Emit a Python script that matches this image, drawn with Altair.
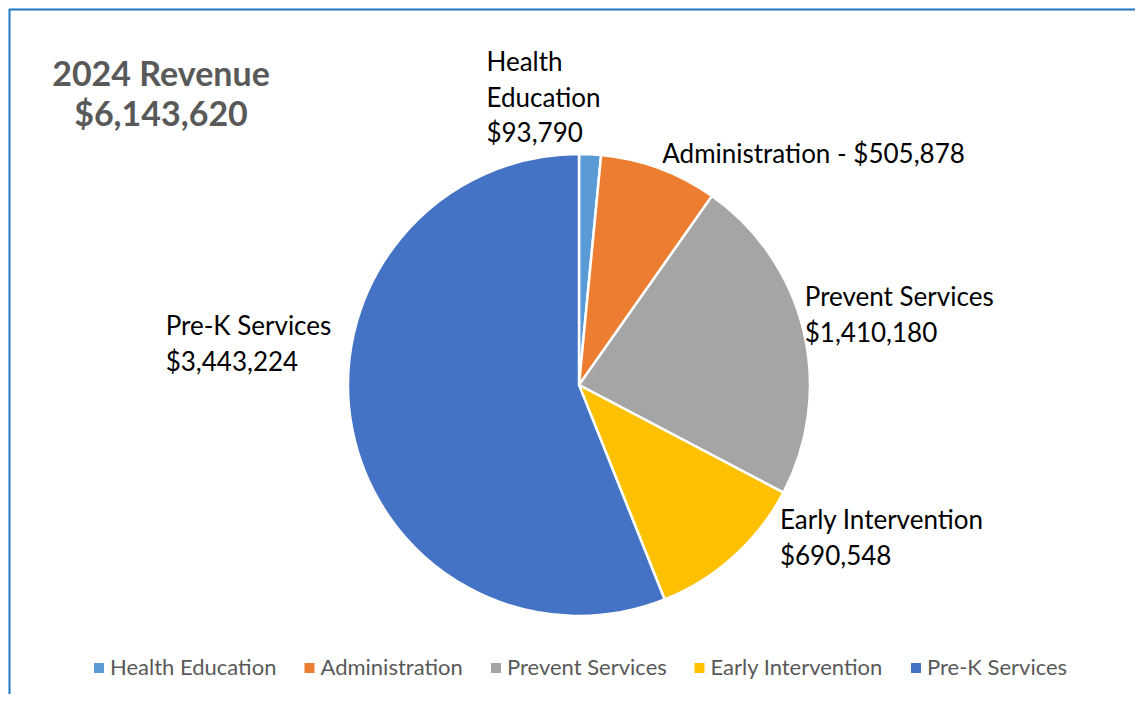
import altair as alt
import pandas as pd

# ---- data ----
categories = ["Health Education", "Administration", "Prevent Services",
              "Early Intervention", "Pre-K Services"]
values = [93790, 505878, 1410180, 690548, 3443224]
colors = ["#5B9BD5", "#ED7D31", "#A5A5A5", "#FFC000", "#4472C4"]
label_heads = ["Health\nEducation", "Administration", "Prevent Services",
               "Early Intervention", "Pre-K Services"]
label_seps = ["\n", " - ", "\n", "\n", "\n"]
title_lines = ["2024 Revenue", "$6,143,620"]

df = pd.DataFrame({
    "category": categories,
    "value": values,
    "idx": list(range(len(categories))),
    "label": [h + s + f"${v:,}" for h, s, v in zip(label_heads, label_seps, values)],
})

# ---- layout / style ----
W, H = 1127, 686
CX, CY, R = 570, 376, 231
FONT = "Lato"
label_offsets = [(-105, -54), (-7, 22), (-27, -18), (27, -49), (-158, -99)]

pie = alt.Chart(df).mark_arc(radius=R, stroke="white", strokeWidth=2.5).encode(
    theta=alt.Theta("value:Q", stack=True),
    color=alt.Color(
        "category:N",
        scale=alt.Scale(domain=categories, range=colors),
        legend=alt.Legend(
            title=None, orient="none", legendX=79, legendY=648,
            direction="horizontal", symbolType="square", symbolSize=100,
            symbolStrokeWidth=0, labelFontSize=22, labelFont=FONT,
            labelColor="#595959", labelLimit=0, columnPadding=21.5, labelOffset=0,
        ),
    ),
    order=alt.Order("idx:Q"),
    x=alt.value(CX),
    y=alt.value(CY),
)

label_layers = []
for i, (dx, dy) in enumerate(label_offsets):
    lay = (
        alt.Chart(df)
        .transform_window(cum="sum(value)", sort=[alt.SortField("idx")], frame=[None, 0])
        .transform_calculate(mid="datum.cum - datum.value / 2")
        .transform_filter(f"datum.idx == {i}")
        .mark_text(radius=260, align="left", baseline="alphabetic", dx=dx, dy=dy,
                   lineBreak="\n", lineHeight=35.5, fontSize=26, font=FONT, color="black")
        .encode(theta=alt.Theta("mid:Q", stack=False), text="label:N",
                x=alt.value(CX), y=alt.value(CY))
    )
    label_layers.append(lay)

title = alt.Chart(pd.DataFrame({"t": ["\n".join(title_lines)]})).mark_text(
    align="center", baseline="alphabetic", fontSize=34, fontWeight="bold",
    font=FONT, color="#595959", lineBreak="\n", lineHeight=40,
).encode(text="t:N", x=alt.value(152), y=alt.value(77))

one = pd.DataFrame({"k": [0]})
top_border = alt.Chart(one).mark_rule(color="#1F76C6", strokeWidth=2).encode(
    x=alt.value(0), x2=alt.value(W), y=alt.value(0.5))
left_border = alt.Chart(one).mark_rule(color="#1F76C6", strokeWidth=2).encode(
    x=alt.value(0.5), y=alt.value(0), y2=alt.value(H))

chart = alt.layer(pie, *label_layers, title, top_border, left_border).properties(
    width=W, height=H,
    autosize=alt.AutoSizeParams(type="fit", contains="padding"),
    padding=0,
    background="white",
).configure_view(stroke=None)

chart.save("out.html", embed_options={"renderer": "svg", "actions": False})
